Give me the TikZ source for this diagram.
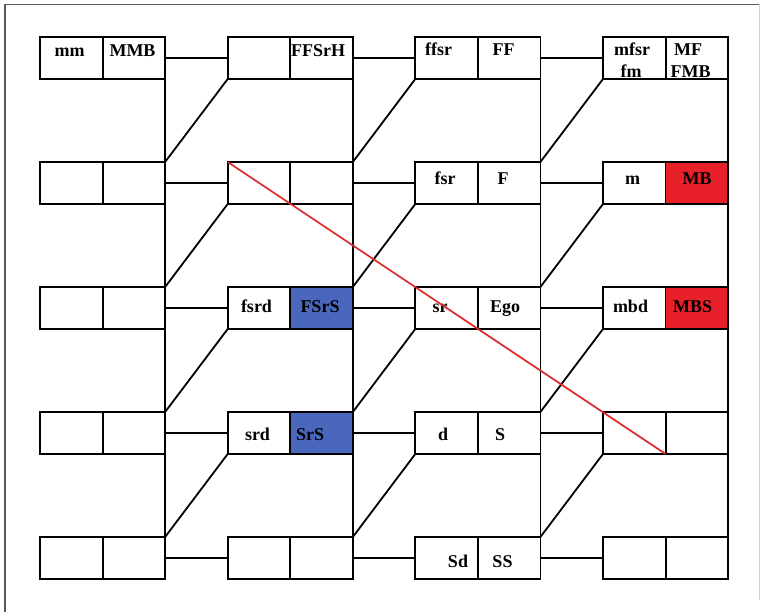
\documentclass[tikz,border=0pt]{standalone}
\usepackage{fontspec}
\setmainfont{Liberation Serif}
\definecolor{cellred}{HTML}{E8202A}
\definecolor{cellblue}{HTML}{4A67BD}
\definecolor{redline}{HTML}{D92A2A}
\definecolor{framegrey}{HTML}{5A5A5A}
\definecolor{framelight}{HTML}{D0D0D0}
\begin{document}
\begin{tikzpicture}[x=1pt,y=-1pt,
  cell/.style={draw=black, line width=1.8pt, minimum width=62.6pt, minimum height=42pt, inner sep=0pt, outer sep=0pt, anchor=north west},
  cf23/.style={fill=cellblue},
  cf24/.style={fill=cellblue},
  cf42/.style={fill=cellred},
  cf43/.style={fill=cellred},
  lbl/.style={font=\fontsize{18}{22}\selectfont\bfseries, inner sep=0pt, anchor=base},
  conn/.style={draw=black, line width=1.8pt},
  frame/.style={draw=framegrey, line width=1.5pt},
  framefaint/.style={draw=framelight, line width=1pt},
  redconn/.style={draw=redline, line width=1.7pt}]
\useasboundingbox (0,0) rectangle (762,612);
% frame
\coordinate (fbl) at (5,612);
\coordinate (ftl) at (5,4.5);
\coordinate (ftr) at (759.5,4.5);
\coordinate (fbr) at (759.5,600);
\draw[frame] (fbl) -- (ftl) -- (ftr);
\draw[framefaint] (ftr) -- (fbr);
% cells
\foreach \c/\x in {1/40,2/227.7,3/415.3,4/603}{
  \foreach \r in {1,...,5}{
    \node[cell] (b\c\r l) at (\x, {37+125*(\r-1)}) {};
    \node[cell, cf\c\r/.try] (b\c\r r) at ({\x+62.5}, {37+125*(\r-1)}) {};
  }
}
% vertical lines on the right of each column
\foreach \c in {1,...,4}{
  \draw[conn] (b\c1r.north east) -- (b\c5r.south east);
}
% horizontal connectors
\foreach \c [evaluate=\c as \n using int(\c+1)] in {1,2,3}{
  \foreach \r in {1,...,5}{
    \draw[conn] (b\c\r r.east) -- (b\n\r l.west);
  }
}
% diagonal connectors
\foreach \c [evaluate=\c as \n using int(\c+1)] in {1,2,3}{
  \foreach \r [evaluate=\r as \s using int(\r+1)] in {1,2,3,4}{
    \draw[conn] (b\n\r l.south west) -- (b\c\s r.north east);
  }
}
% labels
\node[lbl] (t-mm) at (69.5,57) {mm};
\node[lbl] (t-MMB) at (132.5,57) {MMB};
\node[lbl] (t-FFSrH) at (318,57) {FFSrH};
\node[lbl] (t-ffsr) at (438.5,56) {ffsr};
\node[lbl] (t-FF) at (503.5,56) {FF};
\node[lbl] (t-mfsr) at (632,56) {mfsr};
\node[lbl] (t-fm) at (631,78) {fm};
\node[lbl] (t-MF) at (688,56) {MF};
\node[lbl] (t-FMB) at (690.5,78) {FMB};
\node[lbl] (t-fsr) at (445,185) {fsr};
\node[lbl] (t-F) at (503,185) {F};
\node[lbl] (t-m) at (632.5,185) {m};
\node[lbl] (t-MB) at (697,185) {MB};
\node[lbl] (t-fsrd) at (256.5,312) {fsrd};
\node[lbl] (t-FSrS) at (320,312) {FSrS};
\node[lbl] (t-sr) at (440,312) {sr};
\node[lbl] (t-Ego) at (505,312) {Ego};
\node[lbl] (t-mbd) at (630.5,312) {mbd};
\node[lbl] (t-MBS) at (692.5,312) {MBS};
\node[lbl] (t-srd) at (257.5,440) {srd};
\node[lbl] (t-SrS) at (310,440) {SrS};
\node[lbl] (t-d) at (443,440) {d};
\node[lbl] (t-S) at (500,440) {S};
\node[lbl] (t-Sd) at (458,567.5) {Sd};
\node[lbl] (t-SS) at (502.5,567.5) {SS};
% red line
\draw[redconn] (b22l.north west) -- (b44l.south east);
\end{tikzpicture}
\end{document}
